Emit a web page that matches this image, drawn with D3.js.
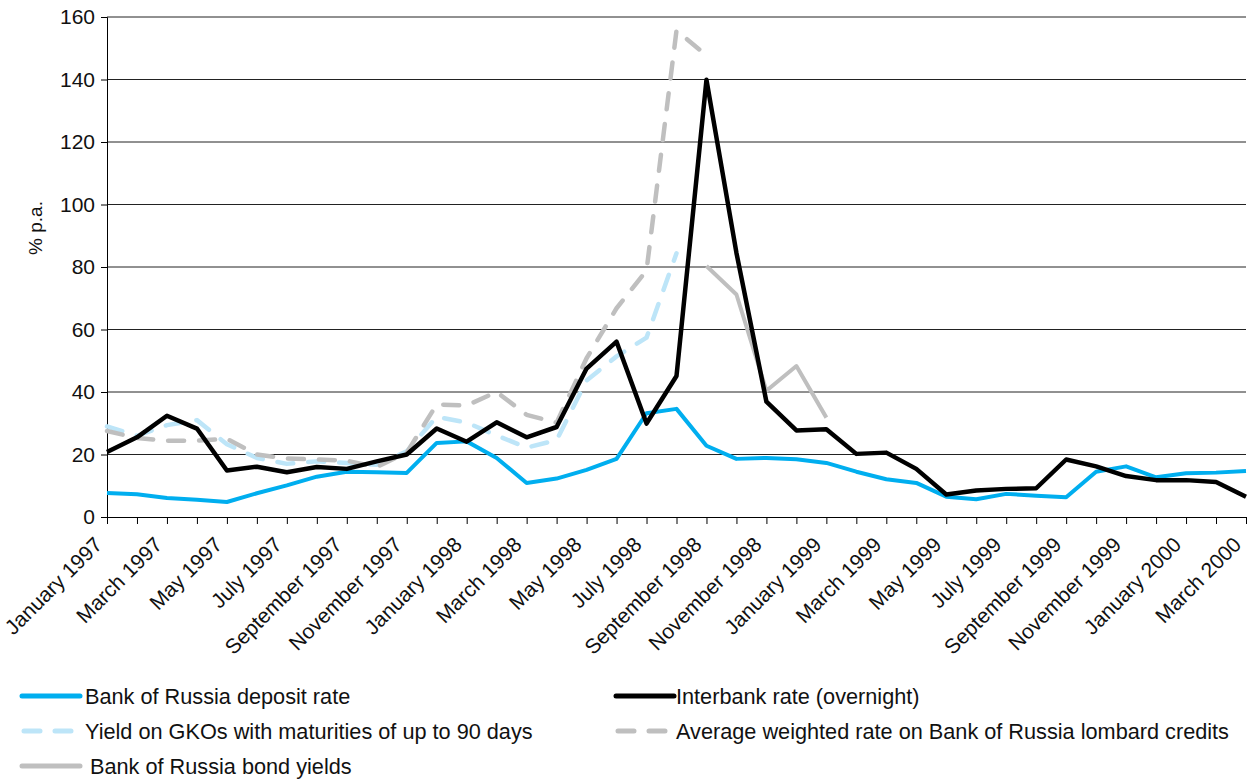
<!DOCTYPE html>
<html>
<head>
<meta charset="utf-8">
<script src="https://cdn.jsdelivr.net/npm/d3@7/dist/d3.min.js"></script>
<style>
  body { margin: 0; background: #fff; }
  svg { font-family: "Liberation Sans", Arial, Helvetica, sans-serif; }
</style>
</head>
<body>
<div id="chart"></div>
<script>
// months on the x axis
var months = [
  "January 1997", "February 1997", "March 1997", "April 1997", "May 1997", "June 1997",
  "July 1997", "August 1997", "September 1997", "October 1997", "November 1997", "December 1997",
  "January 1998", "February 1998", "March 1998", "April 1998", "May 1998", "June 1998",
  "July 1998", "August 1998", "September 1998", "October 1998", "November 1998", "December 1998",
  "January 1999", "February 1999", "March 1999", "April 1999", "May 1999", "June 1999",
  "July 1999", "August 1999", "September 1999", "October 1999", "November 1999", "December 1999",
  "January 2000", "February 2000", "March 2000"
];

// series values, % p.a. (null = no data)
var depositRate = [7.7, 7.3, 6.1, 5.5, 4.8, 7.6, 10.1, 12.9, 14.5, 14.3, 14.1, 23.7,
  24.2, 18.9, 10.9, 12.3, 15.1, 18.6, 33.2, 34.6, 22.8, 18.6, 18.9, 18.5,
  17.3, 14.5, 12.1, 10.9, 6.5, 5.7, 7.4, 6.8, 6.3, 14.5, 16.2, 12.7,
  14.0, 14.2, 14.7];

var interbankRate = [20.8, 25.5, 32.4, 28.3, 14.9, 16.1, 14.3, 16.0, 15.4, 17.8, 20.0, 28.3,
  24.1, 30.3, 25.5, 28.8, 47.5, 56.1, 29.9, 45.1, 139.9, 84.5, 36.9, 27.7,
  28.1, 20.2, 20.6, 15.4, 7.2, 8.5, 9.0, 9.2, 18.4, 16.2, 13.1, 11.8,
  11.8, 11.2, 6.5];

var gkoYield = [29.0, 26.0, 29.4, 31.0, 23.3, 18.9, 17.0, 17.8, 17.3, 16.7, 21.0, 32.1,
  30.2, 26.1, 22.2, 24.6, 43.7, 51.4, 57.4, 84.4, null, null, null, null,
  null, null, null, null, null, null, null, null, null, null, null, null,
  null, null, null];

var lombardRate = [27.5, 25.3, 24.4, 24.4, 25.0, 20.0, 18.7, 18.4, 18.0, 16.0, 20.6, 36.0,
  35.7, 40.0, 32.7, 30.2, 50.8, 66.8, 78.9, 155.7, 147.7, null, null, null,
  null, null, null, null, null, null, null, null, null, null, null, null,
  null, null, null];

var bondYields = [null, null, null, null, null, null, null, null, null, null, null, null,
  null, null, null, null, null, null, null, null, 80.3, 71.2, 40.4, 48.3,
  31.8, null, null, null, null, null, null, null, null, null, null, null,
  null, null, null];

var yTicks = [0, 20, 40, 60, 80, 100, 120, 140, 160];

var svgWidth = 1255, svgHeight = 781;
var margin = { top: 17, right: 9, bottom: 264, left: 107 };
var width = svgWidth - margin.left - margin.right;
var height = svgHeight - margin.top - margin.bottom;

var svg = d3.select("#chart").append("svg")
  .attr("width", svgWidth)
  .attr("height", svgHeight);

var chartGroup = svg.append("g")
  .attr("transform", `translate(${margin.left}, ${margin.top})`);

var x = d3.scalePoint().domain(months).range([0, width]).padding(0);
var y = d3.scaleLinear().domain([0, 160]).range([height, 0]);

// gridlines
chartGroup.append("g")
  .selectAll("line")
  .data(yTicks.filter(d => d > 0))
  .enter().append("line")
  .attr("x1", 0).attr("x2", width)
  .attr("y1", d => y(d)).attr("y2", d => y(d))
  .attr("stroke", "#222").attr("stroke-width", 1);

// y axis
var yAxis = chartGroup.append("g")
  .call(d3.axisLeft(y).tickValues(yTicks).tickSize(6).tickPadding(6));
yAxis.select(".domain").attr("stroke", "#000");
yAxis.selectAll("text").attr("font-size", 21).attr("fill", "#111")
  .attr("font-family", "Liberation Sans, Arial, sans-serif");

// x axis, a tick every month, label every other month
var xAxis = chartGroup.append("g")
  .attr("transform", `translate(0, ${height})`)
  .call(d3.axisBottom(x).tickSize(7)
    .tickFormat((d, i) => i % 2 === 0 ? d : ""));
xAxis.select(".domain").attr("stroke", "#000");
xAxis.selectAll("text")
  .attr("font-size", 21).attr("fill", "#111")
  .attr("font-family", "Liberation Sans, Arial, sans-serif")
  .attr("text-anchor", "end")
  .attr("x", 0).attr("y", 0).attr("dy", 0)
  .attr("transform", "translate(-4, 29) rotate(-45)");

// y axis title
svg.append("text")
  .attr("transform", "translate(42, 228) rotate(-90)")
  .attr("text-anchor", "middle")
  .attr("font-size", 19)
  .attr("fill", "#111")
  .text("% p.a.");

var series = [
  { name: "Bank of Russia deposit rate", values: depositRate, color: "#00aeef", dash: null, w: 4 },
  { name: "Yield on GKOs with maturities of up to 90 days", values: gkoYield, color: "#bde5f8", dash: "16,15", w: 4.5 },
  { name: "Average weighted rate on Bank of Russia lombard credits", values: lombardRate, color: "#bfbfbf", dash: "16,15", w: 4.5 },
  { name: "Bank of Russia bond yields", values: bondYields, color: "#bfbfbf", dash: null, w: 4 },
  { name: "Interbank rate (overnight)", values: interbankRate, color: "#000", dash: null, w: 4.5 }
];

var line = d3.line()
  .defined(d => d.v !== null)
  .x(d => x(d.m))
  .y(d => y(d.v));

series.forEach(function(s) {
  var pts = months.map((m, i) => ({ m: m, v: s.values[i] }));
  chartGroup.append("path")
    .datum(pts)
    .attr("fill", "none")
    .attr("stroke", s.color)
    .attr("stroke-width", s.w)
    .attr("stroke-linejoin", "round")
    .attr("stroke-linecap", s.dash ? "round" : "butt")
    .attr("stroke-dasharray", s.dash)
    .attr("d", line);
});

// legend
var legendItems = [
  { s: series[0], x: 22, y: 696, tx: 85 },
  { s: series[4], x: 616, y: 696, tx: 676 },
  { s: series[1], x: 22, y: 731, tx: 85 },
  { s: series[2], x: 616, y: 731, tx: 676 },
  { s: series[3], x: 22, y: 766, tx: 90 }
];

var legend = svg.append("g");
legendItems.forEach(function(it) {
  var g = legend.append("g");
  g.append("line")
    .attr("x1", it.x + (it.s.dash ? 2 : 0)).attr("x2", it.x + 58)
    .attr("y1", it.y).attr("y2", it.y)
    .attr("stroke", it.s.color)
    .attr("stroke-width", 5)
    .attr("stroke-linecap", "round")
    .attr("stroke-dasharray", it.s.dash ? "16,15" : null);
  g.append("text")
    .attr("x", it.tx).attr("y", it.y)
    .attr("dy", "0.35em")
    .attr("font-size", 21.7)
    .attr("fill", "#111")
    .text(it.s.name);
});
</script>
</body>
</html>
